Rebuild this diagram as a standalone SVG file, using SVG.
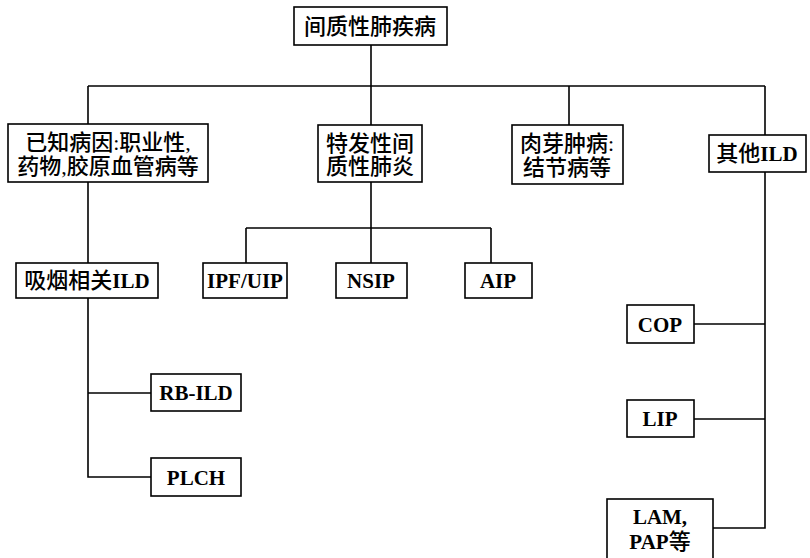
<svg xmlns="http://www.w3.org/2000/svg" width="810" height="558" viewBox="0 0 810 558">
<style>
rect{fill:#fff;stroke:#000;stroke-width:1.6}
.c line,.c polyline{stroke:#000;stroke-width:1.6;fill:none}
text{font-family:"Liberation Serif","Noto Sans CJK SC",serif;font-size:22px;font-weight:500;fill:#000;text-anchor:middle}
.b{font-weight:bold;font-size:21px}
</style>
<rect width="810" height="558" style="fill:#fff;stroke:none"/>
<g class="c" id="connectors">
<line x1="371" y1="45" x2="371" y2="86"/>
<line x1="88" y1="86" x2="765" y2="86"/>
<line x1="88" y1="86" x2="88" y2="124"/>
<line x1="371" y1="86" x2="371" y2="125"/>
<line x1="569" y1="86" x2="569" y2="125"/>
<line x1="765" y1="86" x2="765" y2="135"/>
<line x1="88" y1="182" x2="88" y2="263"/>
<line x1="371" y1="182" x2="371" y2="228"/>
<line x1="246" y1="228" x2="491" y2="228"/>
<line x1="246" y1="228" x2="246" y2="263"/>
<line x1="371" y1="228" x2="371" y2="263"/>
<line x1="491" y1="228" x2="491" y2="263"/>
<polyline points="88,298 88,477 151,477"/>
<line x1="88" y1="393" x2="151" y2="393"/>
<polyline points="765,172 765,528 713,528"/>
<line x1="694" y1="324" x2="765" y2="324"/>
<line x1="694" y1="419" x2="765" y2="419"/>
</g>
<g id="n_root"><rect x="294" y="7" width="153" height="38"/><text x="370" y="34">间质性肺疾病</text></g>
<g id="n_known"><rect x="8" y="124" width="200" height="58"/><text x="108" y="150">已知病因:职业性,</text><text x="108" y="174">药物,胶原血管病等</text></g>
<g id="n_idio"><rect x="318" y="125" width="104" height="57"/><text x="370" y="151">特发性间</text><text x="370" y="174">质性肺炎</text></g>
<g id="n_gran"><rect x="512" y="125" width="111" height="59"/><text x="567" y="151">肉芽肿病:</text><text x="567" y="175">结节病等</text></g>
<g id="n_other"><rect x="709" y="135" width="97" height="37"/><text x="757" y="161">其他<tspan class="b">ILD</tspan></text></g>
<g id="n_smoke"><rect x="16" y="263" width="142" height="35"/><text x="87" y="288">吸烟相关<tspan class="b">ILD</tspan></text></g>
<g id="n_ipf"><rect x="203" y="263" width="84" height="35"/><text class="b" x="245" y="288">IPF/UIP</text></g>
<g id="n_nsip"><rect x="336" y="263" width="71" height="35"/><text class="b" x="371" y="288">NSIP</text></g>
<g id="n_aip"><rect x="465" y="263" width="67" height="35"/><text class="b" x="498" y="288">AIP</text></g>
<g id="n_rb"><rect x="151" y="374" width="90" height="37"/><text class="b" x="196" y="400">RB-ILD</text></g>
<g id="n_plch"><rect x="151" y="458" width="90" height="38"/><text class="b" x="196" y="485">PLCH</text></g>
<g id="n_cop"><rect x="627" y="305" width="67" height="38"/><text class="b" x="660" y="332">COP</text></g>
<g id="n_lip"><rect x="627" y="400" width="67" height="37"/><text class="b" x="660" y="426">LIP</text></g>
<g id="n_lam"><rect x="607" y="499" width="106" height="70"/><text class="b" x="660" y="524">LAM,</text><text x="660" y="549"><tspan class="b">PAP</tspan>等</text></g>
</svg>
